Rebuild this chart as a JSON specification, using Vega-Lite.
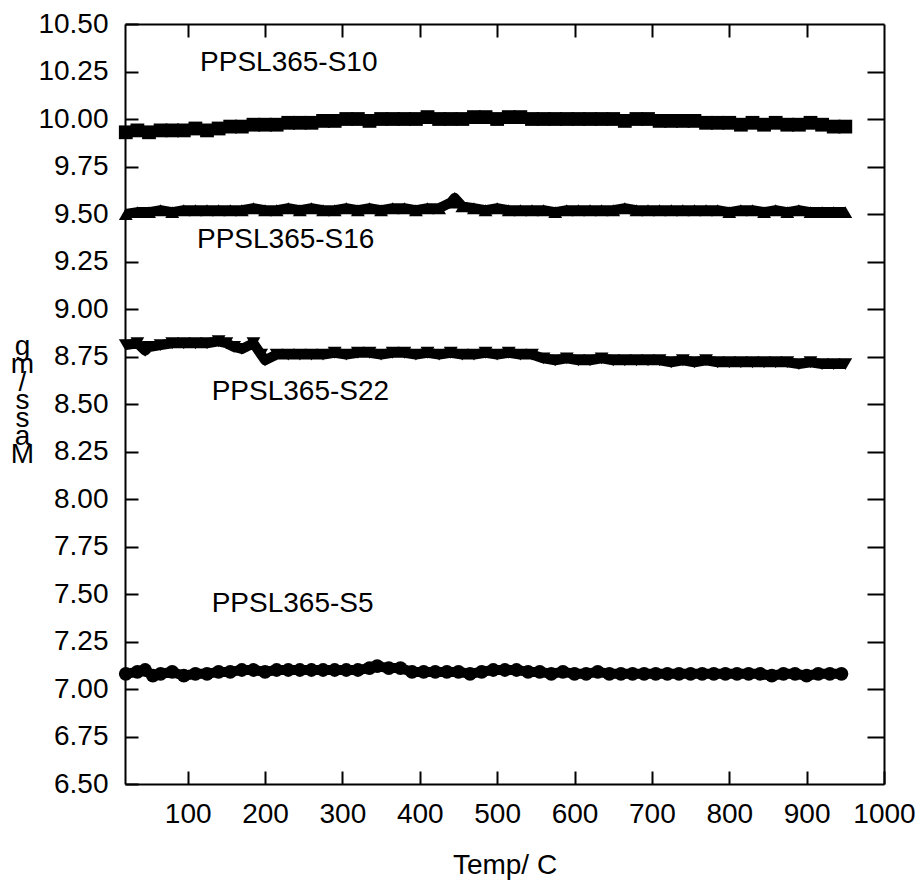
{
  "$schema": "https://vega.github.io/schema/vega-lite/v6.json",
  "width": 759,
  "height": 760,
  "autosize": "none",
  "padding": {"left": 125, "top": 24, "right": 37, "bottom": 98},
  "background": "white",
  "config": {
    "view": {"stroke": null},
    "font": "Liberation Sans",
    "axis": {
      "grid": false,
      "domainColor": "black",
      "domainWidth": 2,
      "tickColor": "black",
      "tickWidth": 2,
      "labelColor": "black",
      "labelFont": "Liberation Sans",
      "labelFontSize": 28,
      "titleFont": "Liberation Sans",
      "titleFontSize": 28,
      "titleFontWeight": "normal",
      "titleColor": "black"
    }
  },
  "datasets": {
    "pts": [
      {"s":"S10","t":20,"m":9.93},{"s":"S10","t":35,"m":9.94},{"s":"S10","t":50,"m":9.93},{"s":"S10","t":65,"m":9.94},{"s":"S10","t":80,"m":9.94},{"s":"S10","t":95,"m":9.94},{"s":"S10","t":110,"m":9.95},{"s":"S10","t":125,"m":9.94},{"s":"S10","t":140,"m":9.95},{"s":"S10","t":155,"m":9.96},{"s":"S10","t":170,"m":9.96},{"s":"S10","t":185,"m":9.97},{"s":"S10","t":200,"m":9.97},{"s":"S10","t":215,"m":9.97},{"s":"S10","t":230,"m":9.98},{"s":"S10","t":245,"m":9.98},{"s":"S10","t":260,"m":9.98},{"s":"S10","t":275,"m":9.99},{"s":"S10","t":290,"m":9.99},{"s":"S10","t":305,"m":10.0},{"s":"S10","t":320,"m":10.0},{"s":"S10","t":335,"m":9.99},{"s":"S10","t":350,"m":10.0},{"s":"S10","t":365,"m":10.0},{"s":"S10","t":380,"m":10.0},{"s":"S10","t":395,"m":10.0},{"s":"S10","t":410,"m":10.01},{"s":"S10","t":425,"m":10.0},{"s":"S10","t":440,"m":10.0},{"s":"S10","t":455,"m":10.0},{"s":"S10","t":470,"m":10.01},{"s":"S10","t":485,"m":10.01},{"s":"S10","t":500,"m":10.0},{"s":"S10","t":515,"m":10.01},{"s":"S10","t":530,"m":10.01},{"s":"S10","t":545,"m":10.0},{"s":"S10","t":560,"m":10.0},{"s":"S10","t":575,"m":10.0},{"s":"S10","t":590,"m":10.0},{"s":"S10","t":605,"m":10.0},{"s":"S10","t":620,"m":10.0},{"s":"S10","t":635,"m":10.0},{"s":"S10","t":650,"m":10.0},{"s":"S10","t":665,"m":9.99},{"s":"S10","t":680,"m":10.0},{"s":"S10","t":695,"m":10.0},{"s":"S10","t":710,"m":9.99},{"s":"S10","t":725,"m":9.99},{"s":"S10","t":740,"m":9.99},{"s":"S10","t":755,"m":9.99},{"s":"S10","t":770,"m":9.98},{"s":"S10","t":785,"m":9.98},{"s":"S10","t":800,"m":9.98},{"s":"S10","t":815,"m":9.97},{"s":"S10","t":830,"m":9.98},{"s":"S10","t":845,"m":9.97},{"s":"S10","t":860,"m":9.98},{"s":"S10","t":875,"m":9.97},{"s":"S10","t":890,"m":9.97},{"s":"S10","t":905,"m":9.98},{"s":"S10","t":920,"m":9.97},{"s":"S10","t":935,"m":9.96},{"s":"S10","t":950,"m":9.96},

      {"s":"S16","t":20,"m":9.5},{"s":"S16","t":35,"m":9.51},{"s":"S16","t":50,"m":9.51},{"s":"S16","t":65,"m":9.52},{"s":"S16","t":80,"m":9.51},{"s":"S16","t":95,"m":9.52},{"s":"S16","t":110,"m":9.52},{"s":"S16","t":125,"m":9.52},{"s":"S16","t":140,"m":9.52},{"s":"S16","t":155,"m":9.52},{"s":"S16","t":170,"m":9.52},{"s":"S16","t":185,"m":9.53},{"s":"S16","t":200,"m":9.52},{"s":"S16","t":215,"m":9.52},{"s":"S16","t":230,"m":9.53},{"s":"S16","t":245,"m":9.52},{"s":"S16","t":260,"m":9.53},{"s":"S16","t":275,"m":9.52},{"s":"S16","t":290,"m":9.52},{"s":"S16","t":305,"m":9.53},{"s":"S16","t":320,"m":9.52},{"s":"S16","t":335,"m":9.53},{"s":"S16","t":350,"m":9.52},{"s":"S16","t":365,"m":9.53},{"s":"S16","t":380,"m":9.53},{"s":"S16","t":395,"m":9.52},{"s":"S16","t":410,"m":9.53},{"s":"S16","t":425,"m":9.53},{"s":"S16","t":440,"m":9.56},{"s":"S16","t":445,"m":9.585},{"s":"S16","t":455,"m":9.54},{"s":"S16","t":470,"m":9.53},{"s":"S16","t":485,"m":9.52},{"s":"S16","t":500,"m":9.53},{"s":"S16","t":515,"m":9.52},{"s":"S16","t":530,"m":9.52},{"s":"S16","t":545,"m":9.52},{"s":"S16","t":560,"m":9.52},{"s":"S16","t":575,"m":9.51},{"s":"S16","t":590,"m":9.52},{"s":"S16","t":605,"m":9.52},{"s":"S16","t":620,"m":9.52},{"s":"S16","t":635,"m":9.52},{"s":"S16","t":650,"m":9.52},{"s":"S16","t":665,"m":9.53},{"s":"S16","t":680,"m":9.52},{"s":"S16","t":695,"m":9.52},{"s":"S16","t":710,"m":9.52},{"s":"S16","t":725,"m":9.52},{"s":"S16","t":740,"m":9.52},{"s":"S16","t":755,"m":9.52},{"s":"S16","t":770,"m":9.52},{"s":"S16","t":785,"m":9.52},{"s":"S16","t":800,"m":9.51},{"s":"S16","t":815,"m":9.52},{"s":"S16","t":830,"m":9.52},{"s":"S16","t":845,"m":9.51},{"s":"S16","t":860,"m":9.52},{"s":"S16","t":875,"m":9.51},{"s":"S16","t":890,"m":9.52},{"s":"S16","t":905,"m":9.51},{"s":"S16","t":920,"m":9.51},{"s":"S16","t":935,"m":9.51},{"s":"S16","t":950,"m":9.51},

      {"s":"S22","t":20,"m":8.81},{"s":"S22","t":35,"m":8.82},{"s":"S22","t":45,"m":8.78},{"s":"S22","t":50,"m":8.8},{"s":"S22","t":65,"m":8.81},{"s":"S22","t":80,"m":8.82},{"s":"S22","t":95,"m":8.82},{"s":"S22","t":110,"m":8.82},{"s":"S22","t":125,"m":8.82},{"s":"S22","t":140,"m":8.83},{"s":"S22","t":150,"m":8.82},{"s":"S22","t":160,"m":8.8},{"s":"S22","t":170,"m":8.79},{"s":"S22","t":185,"m":8.82},{"s":"S22","t":195,"m":8.76},{"s":"S22","t":200,"m":8.73},{"s":"S22","t":215,"m":8.76},{"s":"S22","t":230,"m":8.76},{"s":"S22","t":245,"m":8.76},{"s":"S22","t":260,"m":8.76},{"s":"S22","t":275,"m":8.76},{"s":"S22","t":290,"m":8.77},{"s":"S22","t":305,"m":8.76},{"s":"S22","t":320,"m":8.77},{"s":"S22","t":335,"m":8.77},{"s":"S22","t":350,"m":8.76},{"s":"S22","t":365,"m":8.77},{"s":"S22","t":380,"m":8.77},{"s":"S22","t":395,"m":8.76},{"s":"S22","t":410,"m":8.77},{"s":"S22","t":425,"m":8.76},{"s":"S22","t":440,"m":8.77},{"s":"S22","t":455,"m":8.76},{"s":"S22","t":470,"m":8.76},{"s":"S22","t":485,"m":8.77},{"s":"S22","t":500,"m":8.76},{"s":"S22","t":515,"m":8.77},{"s":"S22","t":530,"m":8.76},{"s":"S22","t":545,"m":8.76},{"s":"S22","t":560,"m":8.74},{"s":"S22","t":575,"m":8.73},{"s":"S22","t":590,"m":8.74},{"s":"S22","t":605,"m":8.73},{"s":"S22","t":620,"m":8.73},{"s":"S22","t":635,"m":8.74},{"s":"S22","t":650,"m":8.73},{"s":"S22","t":665,"m":8.73},{"s":"S22","t":680,"m":8.73},{"s":"S22","t":695,"m":8.73},{"s":"S22","t":710,"m":8.73},{"s":"S22","t":725,"m":8.72},{"s":"S22","t":740,"m":8.73},{"s":"S22","t":755,"m":8.72},{"s":"S22","t":770,"m":8.73},{"s":"S22","t":785,"m":8.72},{"s":"S22","t":800,"m":8.72},{"s":"S22","t":815,"m":8.72},{"s":"S22","t":830,"m":8.72},{"s":"S22","t":845,"m":8.72},{"s":"S22","t":860,"m":8.72},{"s":"S22","t":875,"m":8.72},{"s":"S22","t":890,"m":8.71},{"s":"S22","t":905,"m":8.72},{"s":"S22","t":920,"m":8.71},{"s":"S22","t":935,"m":8.71},{"s":"S22","t":950,"m":8.71},

      {"s":"S5","t":20,"m":7.08},{"s":"S5","t":35,"m":7.09},{"s":"S5","t":45,"m":7.1},{"s":"S5","t":55,"m":7.07},{"s":"S5","t":65,"m":7.08},{"s":"S5","t":80,"m":7.09},{"s":"S5","t":95,"m":7.07},{"s":"S5","t":110,"m":7.08},{"s":"S5","t":125,"m":7.08},{"s":"S5","t":140,"m":7.09},{"s":"S5","t":155,"m":7.09},{"s":"S5","t":170,"m":7.1},{"s":"S5","t":185,"m":7.1},{"s":"S5","t":200,"m":7.09},{"s":"S5","t":215,"m":7.1},{"s":"S5","t":230,"m":7.1},{"s":"S5","t":245,"m":7.1},{"s":"S5","t":260,"m":7.1},{"s":"S5","t":275,"m":7.1},{"s":"S5","t":290,"m":7.1},{"s":"S5","t":305,"m":7.1},{"s":"S5","t":320,"m":7.1},{"s":"S5","t":335,"m":7.11},{"s":"S5","t":345,"m":7.12},{"s":"S5","t":360,"m":7.11},{"s":"S5","t":375,"m":7.11},{"s":"S5","t":390,"m":7.09},{"s":"S5","t":405,"m":7.09},{"s":"S5","t":420,"m":7.09},{"s":"S5","t":435,"m":7.09},{"s":"S5","t":450,"m":7.09},{"s":"S5","t":465,"m":7.08},{"s":"S5","t":480,"m":7.09},{"s":"S5","t":495,"m":7.1},{"s":"S5","t":510,"m":7.1},{"s":"S5","t":525,"m":7.1},{"s":"S5","t":540,"m":7.09},{"s":"S5","t":555,"m":7.09},{"s":"S5","t":570,"m":7.08},{"s":"S5","t":585,"m":7.09},{"s":"S5","t":600,"m":7.08},{"s":"S5","t":615,"m":7.08},{"s":"S5","t":630,"m":7.09},{"s":"S5","t":645,"m":7.08},{"s":"S5","t":660,"m":7.08},{"s":"S5","t":675,"m":7.08},{"s":"S5","t":690,"m":7.08},{"s":"S5","t":705,"m":7.08},{"s":"S5","t":720,"m":7.08},{"s":"S5","t":735,"m":7.08},{"s":"S5","t":750,"m":7.08},{"s":"S5","t":765,"m":7.08},{"s":"S5","t":780,"m":7.08},{"s":"S5","t":795,"m":7.08},{"s":"S5","t":810,"m":7.08},{"s":"S5","t":825,"m":7.08},{"s":"S5","t":840,"m":7.08},{"s":"S5","t":855,"m":7.07},{"s":"S5","t":870,"m":7.08},{"s":"S5","t":885,"m":7.08},{"s":"S5","t":900,"m":7.07},{"s":"S5","t":915,"m":7.08},{"s":"S5","t":930,"m":7.08},{"s":"S5","t":945,"m":7.08}
    ],
    "lbl": [
      {"label":"PPSL365-S10","t":116,"m":10.295},
      {"label":"PPSL365-S16","t":112,"m":9.363},
      {"label":"PPSL365-S22","t":131,"m":8.563},
      {"label":"PPSL365-S5","t":131,"m":7.447}
    ]
  },
  "layer": [
    {
      "data": {"name": "pts"},
      "mark": {"type": "line", "color": "black", "strokeWidth": 10, "strokeJoin": "round"},
      "encoding": {
        "x": {"field": "t", "type": "quantitative", "scale": {"domain": [19, 1000], "nice": false, "zero": false}, "axis": null},
        "y": {"field": "m", "type": "quantitative", "scale": {"domain": [6.5, 10.5], "nice": false, "zero": false}, "axis": null},
        "detail": {"field": "s", "type": "nominal"}
      }
    },
    {
      "data": {"name": "pts"},
      "mark": {"type": "point", "filled": true, "color": "black", "opacity": 1, "size": 190},
      "encoding": {
        "x": {
          "field": "t", "type": "quantitative",
          "scale": {"domain": [19, 1000], "nice": false, "zero": false},
          "axis": {
            "orient": "bottom",
            "values": [100, 200, 300, 400, 500, 600, 700, 800, 900, 1000],
            "format": "d",
            "tickSize": -13,
            "labelPadding": 29,
            "labelFlush": false,
            "title": "Temp/ C",
            "titleY": 89,
            "titleBaseline": "alphabetic"
          }
        },
        "y": {
          "field": "m", "type": "quantitative",
          "scale": {"domain": [6.5, 10.5], "nice": false, "zero": false},
          "axis": {
            "orient": "left",
            "values": [6.5, 6.75, 7, 7.25, 7.5, 7.75, 8, 8.25, 8.5, 8.75, 9, 9.25, 9.5, 9.75, 10, 10.25, 10.5],
            "format": ".2f",
            "tickSize": -13,
            "labelPadding": 30,
            "labelFlush": false,
            "title": ["g", "m", "/", "s", "s", "a", "M"],
            "titleAngle": 0,
            "titleAlign": "center",
            "titleBaseline": "alphabetic",
            "titleLineHeight": 18,
            "titleX": -103,
            "titleY": 330
          }
        },
        "shape": {
          "field": "s", "type": "nominal",
          "scale": {"domain": ["S10", "S16", "S22", "S5"], "range": ["square", "triangle-up", "triangle-down", "circle"]},
          "legend": null
        }
      }
    },
    {
      "data": {"name": "lbl"},
      "mark": {"type": "text", "align": "left", "baseline": "middle", "fontSize": 28, "font": "Liberation Sans", "color": "black"},
      "encoding": {
        "x": {
          "field": "t", "type": "quantitative",
          "scale": {"domain": [19, 1000], "nice": false, "zero": false},
          "axis": {"orient": "top", "values": [100, 200, 300, 400, 500, 600, 700, 800, 900], "labels": false, "tickSize": -13, "title": null}
        },
        "y": {
          "field": "m", "type": "quantitative",
          "scale": {"domain": [6.5, 10.5], "nice": false, "zero": false},
          "axis": {"orient": "right", "values": [6.75, 7, 7.25, 7.5, 7.75, 8, 8.25, 8.5, 8.75, 9, 9.25, 9.5, 9.75, 10, 10.25], "labels": false, "tickSize": -17, "title": null}
        },
        "text": {"field": "label"}
      }
    }
  ],
  "resolve": {"axis": {"x": "independent", "y": "independent"}}
}
